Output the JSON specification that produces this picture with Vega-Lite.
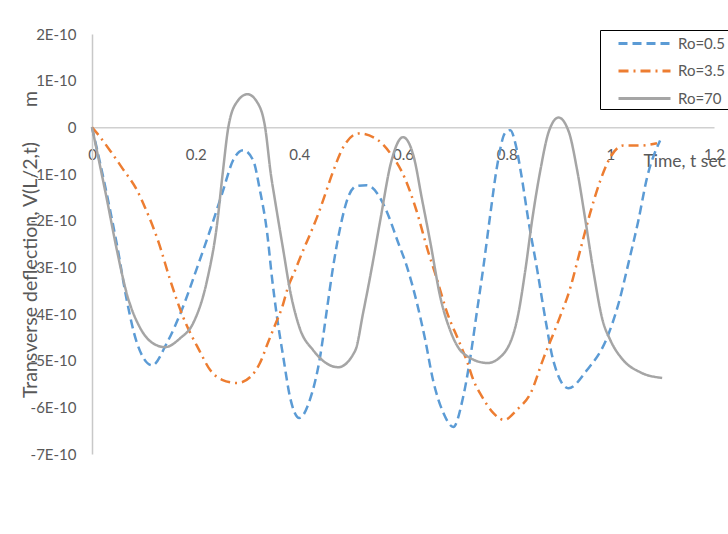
{
  "$schema": "https://vega.github.io/schema/vega-lite/v6.json",
  "width": 622,
  "height": 420,
  "autosize": {"type": "none"},
  "padding": {"left": 92, "top": 34, "right": 14, "bottom": 80},
  "background": "white",
  "config": {"view": {"stroke": null}, "font": "Lato"},
  "data": {
    "values": [
      {"s": "Ro=0.5", "t": 0, "v": 0},
      {"s": "Ro=0.5", "t": 0.031, "v": -1.56e-10},
      {"s": "Ro=0.5", "t": 0.05, "v": -2.63e-10},
      {"s": "Ro=0.5", "t": 0.067, "v": -3.7e-10},
      {"s": "Ro=0.5", "t": 0.087, "v": -4.63e-10},
      {"s": "Ro=0.5", "t": 0.116, "v": -5.1e-10},
      {"s": "Ro=0.5", "t": 0.144, "v": -4.63e-10},
      {"s": "Ro=0.5", "t": 0.173, "v": -3.92e-10},
      {"s": "Ro=0.5", "t": 0.203, "v": -3.0e-10},
      {"s": "Ro=0.5", "t": 0.228, "v": -2.2e-10},
      {"s": "Ro=0.5", "t": 0.253, "v": -1.35e-10},
      {"s": "Ro=0.5", "t": 0.272, "v": -0.71e-10},
      {"s": "Ro=0.5", "t": 0.292, "v": -0.49e-10},
      {"s": "Ro=0.5", "t": 0.311, "v": -0.71e-10},
      {"s": "Ro=0.5", "t": 0.324, "v": -1.35e-10},
      {"s": "Ro=0.5", "t": 0.338, "v": -2.27e-10},
      {"s": "Ro=0.5", "t": 0.347, "v": -3.2e-10},
      {"s": "Ro=0.5", "t": 0.357, "v": -4.07e-10},
      {"s": "Ro=0.5", "t": 0.369, "v": -4.92e-10},
      {"s": "Ro=0.5", "t": 0.382, "v": -5.78e-10},
      {"s": "Ro=0.5", "t": 0.4, "v": -6.23e-10},
      {"s": "Ro=0.5", "t": 0.42, "v": -5.85e-10},
      {"s": "Ro=0.5", "t": 0.44, "v": -4.92e-10},
      {"s": "Ro=0.5", "t": 0.453, "v": -3.92e-10},
      {"s": "Ro=0.5", "t": 0.465, "v": -3.0e-10},
      {"s": "Ro=0.5", "t": 0.479, "v": -2.14e-10},
      {"s": "Ro=0.5", "t": 0.494, "v": -1.5e-10},
      {"s": "Ro=0.5", "t": 0.51, "v": -1.26e-10},
      {"s": "Ro=0.5", "t": 0.53, "v": -1.24e-10},
      {"s": "Ro=0.5", "t": 0.55, "v": -1.41e-10},
      {"s": "Ro=0.5", "t": 0.57, "v": -1.84e-10},
      {"s": "Ro=0.5", "t": 0.589, "v": -2.42e-10},
      {"s": "Ro=0.5", "t": 0.608, "v": -3.0e-10},
      {"s": "Ro=0.5", "t": 0.627, "v": -3.77e-10},
      {"s": "Ro=0.5", "t": 0.643, "v": -4.56e-10},
      {"s": "Ro=0.5", "t": 0.658, "v": -5.42e-10},
      {"s": "Ro=0.5", "t": 0.678, "v": -6.12e-10},
      {"s": "Ro=0.5", "t": 0.697, "v": -6.42e-10},
      {"s": "Ro=0.5", "t": 0.716, "v": -5.78e-10},
      {"s": "Ro=0.5", "t": 0.73, "v": -4.92e-10},
      {"s": "Ro=0.5", "t": 0.743, "v": -3.92e-10},
      {"s": "Ro=0.5", "t": 0.755, "v": -3.0e-10},
      {"s": "Ro=0.5", "t": 0.768, "v": -1.9e-10},
      {"s": "Ro=0.5", "t": 0.782, "v": -0.8e-10},
      {"s": "Ro=0.5", "t": 0.797, "v": -0.12e-10},
      {"s": "Ro=0.5", "t": 0.807, "v": -0.06e-10},
      {"s": "Ro=0.5", "t": 0.818, "v": -0.4e-10},
      {"s": "Ro=0.5", "t": 0.828, "v": -1.0e-10},
      {"s": "Ro=0.5", "t": 0.842, "v": -2.0e-10},
      {"s": "Ro=0.5", "t": 0.859, "v": -3.06e-10},
      {"s": "Ro=0.5", "t": 0.875, "v": -4.13e-10},
      {"s": "Ro=0.5", "t": 0.89, "v": -5.0e-10},
      {"s": "Ro=0.5", "t": 0.919, "v": -5.59e-10},
      {"s": "Ro=0.5", "t": 0.955, "v": -5.2e-10},
      {"s": "Ro=0.5", "t": 0.994, "v": -4.5e-10},
      {"s": "Ro=0.5", "t": 1.016, "v": -3.77e-10},
      {"s": "Ro=0.5", "t": 1.035, "v": -2.91e-10},
      {"s": "Ro=0.5", "t": 1.054, "v": -2.0e-10},
      {"s": "Ro=0.5", "t": 1.071, "v": -1.07e-10},
      {"s": "Ro=0.5", "t": 1.096, "v": -0.28e-10},

      {"s": "Ro=3.5", "t": 0, "v": 0},
      {"s": "Ro=3.5", "t": 0.01, "v": -0.13e-10},
      {"s": "Ro=3.5", "t": 0.035, "v": -0.5e-10},
      {"s": "Ro=3.5", "t": 0.06, "v": -0.9e-10},
      {"s": "Ro=3.5", "t": 0.087, "v": -1.35e-10},
      {"s": "Ro=3.5", "t": 0.102, "v": -1.71e-10},
      {"s": "Ro=3.5", "t": 0.129, "v": -2.48e-10},
      {"s": "Ro=3.5", "t": 0.151, "v": -3.28e-10},
      {"s": "Ro=3.5", "t": 0.176, "v": -4.07e-10},
      {"s": "Ro=3.5", "t": 0.207, "v": -4.78e-10},
      {"s": "Ro=3.5", "t": 0.228, "v": -5.2e-10},
      {"s": "Ro=3.5", "t": 0.251, "v": -5.41e-10},
      {"s": "Ro=3.5", "t": 0.28, "v": -5.48e-10},
      {"s": "Ro=3.5", "t": 0.309, "v": -5.31e-10},
      {"s": "Ro=3.5", "t": 0.324, "v": -5.05e-10},
      {"s": "Ro=3.5", "t": 0.34, "v": -4.6e-10},
      {"s": "Ro=3.5", "t": 0.353, "v": -4.24e-10},
      {"s": "Ro=3.5", "t": 0.367, "v": -3.85e-10},
      {"s": "Ro=3.5", "t": 0.378, "v": -3.43e-10},
      {"s": "Ro=3.5", "t": 0.392, "v": -3.06e-10},
      {"s": "Ro=3.5", "t": 0.405, "v": -2.7e-10},
      {"s": "Ro=3.5", "t": 0.42, "v": -2.31e-10},
      {"s": "Ro=3.5", "t": 0.434, "v": -1.93e-10},
      {"s": "Ro=3.5", "t": 0.446, "v": -1.56e-10},
      {"s": "Ro=3.5", "t": 0.465, "v": -0.95e-10},
      {"s": "Ro=3.5", "t": 0.485, "v": -0.42e-10},
      {"s": "Ro=3.5", "t": 0.515, "v": -0.13e-10},
      {"s": "Ro=3.5", "t": 0.55, "v": -0.26e-10},
      {"s": "Ro=3.5", "t": 0.575, "v": -0.55e-10},
      {"s": "Ro=3.5", "t": 0.604, "v": -1.1e-10},
      {"s": "Ro=3.5", "t": 0.625, "v": -1.75e-10},
      {"s": "Ro=3.5", "t": 0.649, "v": -2.68e-10},
      {"s": "Ro=3.5", "t": 0.662, "v": -3.13e-10},
      {"s": "Ro=3.5", "t": 0.687, "v": -4.03e-10},
      {"s": "Ro=3.5", "t": 0.707, "v": -4.56e-10},
      {"s": "Ro=3.5", "t": 0.724, "v": -5.03e-10},
      {"s": "Ro=3.5", "t": 0.736, "v": -5.42e-10},
      {"s": "Ro=3.5", "t": 0.753, "v": -5.78e-10},
      {"s": "Ro=3.5", "t": 0.774, "v": -6.12e-10},
      {"s": "Ro=3.5", "t": 0.795, "v": -6.27e-10},
      {"s": "Ro=3.5", "t": 0.82, "v": -6.05e-10},
      {"s": "Ro=3.5", "t": 0.846, "v": -5.7e-10},
      {"s": "Ro=3.5", "t": 0.871, "v": -4.95e-10},
      {"s": "Ro=3.5", "t": 0.898, "v": -4.2e-10},
      {"s": "Ro=3.5", "t": 0.923, "v": -3.43e-10},
      {"s": "Ro=3.5", "t": 0.942, "v": -2.63e-10},
      {"s": "Ro=3.5", "t": 0.961, "v": -1.84e-10},
      {"s": "Ro=3.5", "t": 0.981, "v": -1.13e-10},
      {"s": "Ro=3.5", "t": 1.0, "v": -0.64e-10},
      {"s": "Ro=3.5", "t": 1.025, "v": -0.39e-10},
      {"s": "Ro=3.5", "t": 1.058, "v": -0.39e-10},
      {"s": "Ro=3.5", "t": 1.09, "v": -0.34e-10},

      {"s": "Ro=70", "t": 0, "v": 0},
      {"s": "Ro=70", "t": 0.029, "v": -1.56e-10},
      {"s": "Ro=70", "t": 0.048, "v": -2.63e-10},
      {"s": "Ro=70", "t": 0.067, "v": -3.56e-10},
      {"s": "Ro=70", "t": 0.093, "v": -4.3e-10},
      {"s": "Ro=70", "t": 0.118, "v": -4.63e-10},
      {"s": "Ro=70", "t": 0.141, "v": -4.71e-10},
      {"s": "Ro=70", "t": 0.17, "v": -4.52e-10},
      {"s": "Ro=70", "t": 0.195, "v": -4.2e-10},
      {"s": "Ro=70", "t": 0.222, "v": -3.28e-10},
      {"s": "Ro=70", "t": 0.241, "v": -2.1e-10},
      {"s": "Ro=70", "t": 0.252, "v": -1.0e-10},
      {"s": "Ro=70", "t": 0.263, "v": 0},
      {"s": "Ro=70", "t": 0.28, "v": 0.55e-10},
      {"s": "Ro=70", "t": 0.3, "v": 0.71e-10},
      {"s": "Ro=70", "t": 0.318, "v": 0.55e-10},
      {"s": "Ro=70", "t": 0.334, "v": 0},
      {"s": "Ro=70", "t": 0.345, "v": -1.0e-10},
      {"s": "Ro=70", "t": 0.353, "v": -1.56e-10},
      {"s": "Ro=70", "t": 0.369, "v": -2.63e-10},
      {"s": "Ro=70", "t": 0.382, "v": -3.49e-10},
      {"s": "Ro=70", "t": 0.4, "v": -4.28e-10},
      {"s": "Ro=70", "t": 0.427, "v": -4.78e-10},
      {"s": "Ro=70", "t": 0.475, "v": -5.14e-10},
      {"s": "Ro=70", "t": 0.508, "v": -4.78e-10},
      {"s": "Ro=70", "t": 0.523, "v": -3.98e-10},
      {"s": "Ro=70", "t": 0.54, "v": -3.0e-10},
      {"s": "Ro=70", "t": 0.556, "v": -2.0e-10},
      {"s": "Ro=70", "t": 0.577, "v": -0.75e-10},
      {"s": "Ro=70", "t": 0.6, "v": -0.21e-10},
      {"s": "Ro=70", "t": 0.62, "v": -0.6e-10},
      {"s": "Ro=70", "t": 0.637, "v": -1.56e-10},
      {"s": "Ro=70", "t": 0.653, "v": -2.48e-10},
      {"s": "Ro=70", "t": 0.672, "v": -3.64e-10},
      {"s": "Ro=70", "t": 0.691, "v": -4.35e-10},
      {"s": "Ro=70", "t": 0.716, "v": -4.84e-10},
      {"s": "Ro=70", "t": 0.763, "v": -5.05e-10},
      {"s": "Ro=70", "t": 0.788, "v": -4.92e-10},
      {"s": "Ro=70", "t": 0.82, "v": -4.13e-10},
      {"s": "Ro=70", "t": 0.836, "v": -3.06e-10},
      {"s": "Ro=70", "t": 0.849, "v": -2.0e-10},
      {"s": "Ro=70", "t": 0.865, "v": -0.92e-10},
      {"s": "Ro=70", "t": 0.881, "v": -0.1e-10},
      {"s": "Ro=70", "t": 0.9, "v": 0.21e-10},
      {"s": "Ro=70", "t": 0.92, "v": -0.1e-10},
      {"s": "Ro=70", "t": 0.936, "v": -0.92e-10},
      {"s": "Ro=70", "t": 0.952, "v": -2.0e-10},
      {"s": "Ro=70", "t": 0.967, "v": -3.06e-10},
      {"s": "Ro=70", "t": 0.985, "v": -4.13e-10},
      {"s": "Ro=70", "t": 1.0, "v": -4.56e-10},
      {"s": "Ro=70", "t": 1.025, "v": -4.99e-10},
      {"s": "Ro=70", "t": 1.058, "v": -5.25e-10},
      {"s": "Ro=70", "t": 1.1, "v": -5.37e-10}
    ]
  },
  "mark": {"type": "line", "interpolate": "monotone", "strokeWidth": 2.5},
  "encoding": {
    "x": {
      "field": "t",
      "type": "quantitative",
      "scale": {"domain": [0, 1.2], "nice": false, "zero": false},
      "axis": {
        "orient": "bottom",
        "offset": -326.667,
        "values": [0, 0.2, 0.4, 0.6, 0.8, 1, 1.2],
        "format": "~g",
        "grid": false,
        "ticks": false,
        "domainColor": "#D0D0D0",
        "domainWidth": 1.5,
        "labelColor": "#595959",
        "labelFont": "Lato",
        "labelFontSize": 15,
        "labelPadding": 20,
        "labelFlush": false,
        "labelOverlap": false,
        "title": "Time, t sec",
        "titleFont": "Lato",
        "titleFontSize": 17.5,
        "titleFontWeight": "normal",
        "titleColor": "#595959",
        "titleAlign": "left",
        "titleBaseline": "middle",
        "titleAnchor": null,
        "titleX": 551,
        "titleY": 34
      }
    },
    "y": {
      "field": "v",
      "type": "quantitative",
      "scale": {"domain": [-7e-10, 2e-10], "nice": false, "zero": false},
      "axis": {
        "values": [-7e-10, -6e-10, -5e-10, -4e-10, -3e-10, -2e-10, -1e-10, 0, 1e-10, 2e-10],
        "labelExpr": "datum.value == 0 ? '0' : replace(replace(format(datum.value, '.0e'), 'e', 'E'), '\u2212', '-')",
        "grid": false,
        "ticks": false,
        "domainColor": "#C8C8C8",
        "domainWidth": 1.5,
        "labelColor": "#595959",
        "labelFont": "Lato",
        "labelFontSize": 15,
        "labelPadding": 16,
        "labelFlush": false,
        "labelOverlap": false,
        "title": "Transverse deflection, V(L/2,t)\u00a0\u00a0\u00a0\u00a0\u00a0\u00a0 m",
        "titleFont": "Lato",
        "titleFontSize": 19.5,
        "titleFontWeight": "normal",
        "titleColor": "#595959",
        "titleAngle": -90,
        "titleAlign": "center",
        "titleBaseline": "middle",
        "titleAnchor": null,
        "titleX": -62,
        "titleY": 210
      }
    },
    "color": {
      "field": "s",
      "type": "nominal",
      "title": null,
      "scale": {"domain": ["Ro=0.5", "Ro=3.5", "Ro=70"], "range": ["#5B9BD5", "#ED7D31", "#A5A5A5"]},
      "legend": {
        "orient": "none",
        "legendX": 508,
        "legendY": -4,
        "symbolType": "M-2.6,0H2.6",
        "symbolSize": 400,
        "symbolStrokeWidth": 3,
        "symbolFillColor": "transparent",
        "labelFont": "Lato",
        "labelFontSize": 15,
        "labelColor": "#595959",
        "labelOffset": 22,
        "padding": 2,
        "symbolOffset": 31,
        "rowPadding": 7.5,
        "strokeColor": "#000000",
        "fillColor": "white"
      }
    },
    "strokeDash": {
      "field": "s",
      "type": "nominal",
      "title": null,
      "scale": {"domain": ["Ro=0.5", "Ro=3.5", "Ro=70"], "range": [[9, 5], [10, 5, 2, 5], [1, 0]]}
    }
  }
}
